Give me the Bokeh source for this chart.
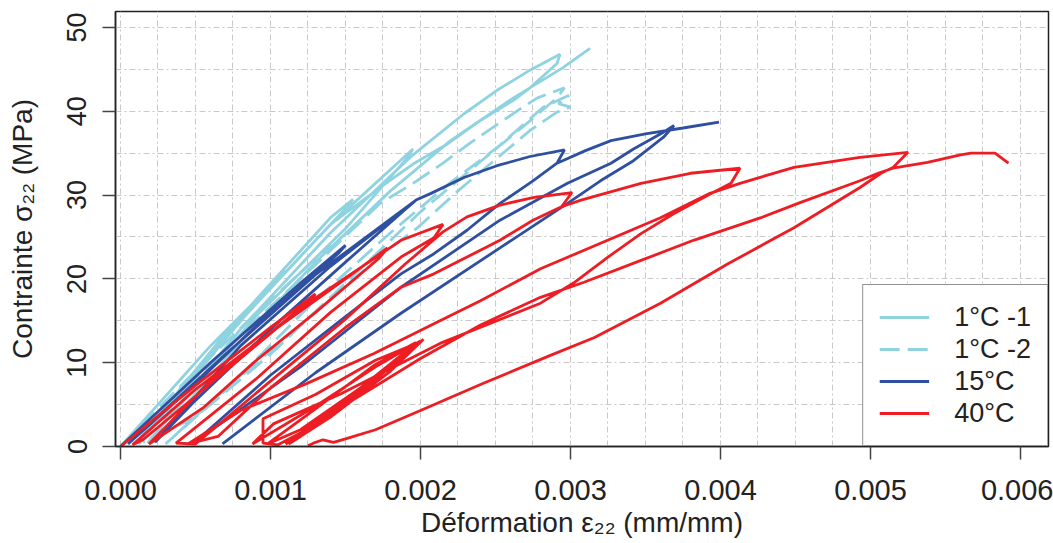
import math
from bokeh.plotting import figure
from bokeh.models import (Range1d, SingleIntervalTicker, PrintfTickFormatter,
                          Legend, LegendItem, Title)
from bokeh.embed import file_html
from bokeh.resources import INLINE

nan = float("nan")

# ---------------- data (strain mm/mm, stress MPa) ----------------
# 1°C -1 (solid light blue)
lb1_eps = [0.0, 0.0006, 0.0011, 0.00105, 0.0006, 0.0001,
           0.0007, 0.0014, 0.00155, 0.00148, 0.0009, 0.0003, 0.00012,
           0.0008, 0.0014, 0.00195, 0.0019, 0.0015, 0.0009, 0.00018,
           0.0008, 0.0014, 0.00195, 0.00229, 0.00251, 0.00273, 0.00293, 0.00291,
           0.00273, 0.00262, 0.0024, 0.00218, 0.00195, 0.00173, 0.0014, 0.0009, 0.0004, 0.00022,
           0.0008, 0.0013, 0.0018, 0.0022, 0.00262, 0.00295, 0.00313]
lb1_sig = [0, 12, 21, 20, 11, 0.3,
           13.5, 27.3, 29.5, 28, 17, 4.5, 0.3,
           15, 26.5, 35.5, 34.2, 26, 15.5, 0.4,
           14, 25.5, 34.8, 39.7, 42.5, 44.9, 46.8, 45.7,
           42.8, 41.3, 38.9, 36.1, 33.7, 30.9, 26.5, 17, 7, 0.5,
           12.5, 22, 30.5, 36.5, 41.6, 45.2, 47.5]

# 1°C -2 (dashed light blue)
lb2_eps = [0.0, 0.0005, 0.001, 0.0014, 0.00138, 0.0009, 0.0004, 0.0001,
           0.0006, 0.0012, 0.00173, 0.00195, 0.00215, 0.00233, 0.00265, 0.00278, 0.00296, 0.00291,
           0.0027, 0.0024, 0.002, 0.0015, 0.001, 0.0005, 0.0003,
           0.0008, 0.0013, 0.0018, 0.0022, 0.0025, 0.00282, 0.00299, 0.00292, 0.003,
           0.00291, 0.00273, 0.00247, 0.00225, 0.00198, 0.00175, 0.0013, 0.0009, 0.0005, 0.00015]
lb2_sig = [0, 9, 17.5, 24, 23, 15, 6.5, 0.3,
           10, 20, 29, 31.4, 33.8, 36.2, 40.1, 41.6, 42.8, 41.6,
           38.4, 34, 28, 19.5, 11, 3.5, 0.3,
           8.5, 17.5, 25.5, 31.5, 35.5, 40.5, 41.9, 40.9, 40.5,
           39.9, 37.7, 33.8, 30.5, 26.1, 23, 16, 9.9, 3.5, 0.5]

# 15°C (dark blue)
db_eps = [0.0, 0.0006, 0.0012, 0.0015, 0.00145, 0.001, 0.0005, 0.00005,
          0.0007, 0.0013, 0.00197, 0.0019, 0.0015, 0.001, 0.0005, 0.00023,
          0.0008, 0.0014, 0.00197, 0.00207, 0.00229, 0.00251, 0.00273, 0.00296, 0.00291,
          0.00275, 0.00253, 0.00231, 0.00209, 0.00187, 0.0015, 0.001, 0.0005,
          0.0012, 0.00187, 0.00253, 0.00298, 0.00327, 0.00342, 0.00362, 0.00369,
          0.00362, 0.00342, 0.0032, 0.00298, 0.00253, 0.00187, 0.0013, 0.00068,
          nan,
          0.00291, 0.0031, 0.00327, 0.0035, 0.00375, 0.00399]
db_sig = [0, 10, 19.5, 24, 23, 16, 7.5, 0.3,
          11, 20.5, 29.4, 28.3, 22, 14, 5.5, 0.5,
          12, 21.5, 29.4, 30.2, 32.1, 33.5, 34.6, 35.4, 33.8,
          31.7, 29, 25.8, 23, 20.6, 15.5, 8.5, 0.6,
          9.5, 19, 27, 31.4, 33.8, 35.5, 37.5, 38.3,
          36.9, 34.1, 31.7, 29, 23.7, 15.9, 8.8, 0.3,
          nan,
          33.8, 35.3, 36.5, 37.3, 38.0, 38.7]

# 40°C (red)
rd_eps = [0.0, 0.0005, 0.001, 0.0013, 0.00125, 0.0009, 0.0005, 0.00015, 0.00008,
          0.0005, 0.001, 0.0015, 0.00178, 0.00172, 0.0013, 0.0009, 0.00055, 0.00019,
          0.0006, 0.0012, 0.00187, 0.00215, 0.00209, 0.00187, 0.0014, 0.0009, 0.00037, 0.0005,
          0.001, 0.0015, 0.0019, 0.00215, 0.00231, 0.00253, 0.00275, 0.00301, 0.00294,
          0.00307, 0.00347, 0.0038, 0.00413, 0.00407, 0.00395, 0.00369, 0.00347, 0.00325,
          0.00302, 0.0028, 0.00213, 0.00147, 0.00102, 0.00088,
          0.0013, 0.0017, 0.002, 0.00192, 0.0016, 0.0012, 0.00098,
          0.0013, 0.0017, 0.00197, 0.0019, 0.00155, 0.0012, 0.00105, 0.00095, 0.00095,
          0.0013, 0.0017, 0.002, 0.0016, 0.0012, 0.00112,
          0.0014, 0.0018, 0.00202, 0.0017, 0.0013, 0.0011,
          0.0015, 0.002, 0.0024, 0.0028, 0.00309, 0.00347, 0.00382, 0.00427, 0.00453,
          0.00493, 0.00505, 0.00515, 0.00538, 0.0056, 0.00567, 0.00583, 0.00592,
          nan,
          0.00294, 0.00275, 0.00253, 0.00231, 0.00209, 0.00187, 0.0015, 0.001, 0.00065, 0.00045,
          0.0008, 0.00124, 0.00169, 0.00213, 0.0024, 0.0028, 0.0036, 0.00393, 0.00413,
          0.00449, 0.00493, 0.00525, 0.00515, 0.00507, 0.00493, 0.00449, 0.00405, 0.0036,
          0.00316, 0.00287, 0.0024, 0.002, 0.0017, 0.0015, 0.00142, 0.00135, 0.0013, 0.00125]
rd_sig = [0, 7.3, 14.2, 18.2, 17.2, 12.0, 6.0, 0.8, 0.2,
          6.8, 13.6, 20.0, 23.7, 22.4, 16.0, 10.2, 4.6, 0.3,
          7.8, 16.5, 24.6, 26.5, 24.9, 22.6, 16.0, 8.0, 0.4, 0.3,
          7.8, 15.2, 21.8, 25.6, 27.4, 28.8, 29.7, 30.3, 28.6,
          29.4, 31.4, 32.6, 33.2, 31.4, 30.3, 27.8, 25.4, 22.6,
          19.5, 17.1, 12.3, 6.3, 2.7, 0.3,
          4.8, 9.5, 12.6, 11.6, 7.0, 2.0, 0.3,
          4.5, 9.8, 12.4, 11.2, 6.0, 1.6, 0.2, 0.4, 3.3,
          6.2, 10.3, 12.5, 6.5, 1.2, 0.3,
          3.5, 9.0, 12.8, 8.0, 2.5, 0.3,
          5.0, 10.5, 14.5, 17.8, 19.6, 22.2, 24.6, 27.3, 29.1,
          31.7, 32.6, 33.2, 33.9, 34.8, 35.0, 35.0, 33.8,
          nan,
          28.6, 27.0, 24.6, 22.6, 20.6, 19.0, 14.2, 7.0, 1.2, 0.3,
          4.3, 7.5, 11.1, 15.0, 17.4, 21.2, 27.3, 30.2, 31.4,
          33.3, 34.5, 35.1, 33.3, 32.6, 30.9, 26.1, 21.8, 17.1,
          13.0, 10.9, 7.4, 4.3, 2.0, 0.9, 0.5, 0.8, 0.5, 0.1]

series_labels = ["1°C -1", "1°C -2", "15°C", "40°C"]
series_colors = ["#8fd3e0", "#8fd3e0", "#2f4fa0", "#ee1d24"]

x_ticks_interval = 0.001
y_ticks_interval = 10

# ---------------- figure ----------------
FONT = "Liberation Sans"
TXT = "#222222"

p = figure(frame_width=933, frame_height=435,
           x_range=Range1d(-0.0000333, 0.0061867), y_range=Range1d(0, 51.9),
           output_backend="svg", toolbar_location=None,
           min_border_left=115, min_border_top=11, min_border_right=5,
           min_border_bottom=97)

p.outline_line_color = "#222222"
p.outline_line_width = 1.5
p.background_fill_color = "white"
p.border_fill_color = "white"

# grids
p.xgrid.ticker = SingleIntervalTicker(interval=0.00025)
p.ygrid.ticker = SingleIntervalTicker(interval=5)
for g in (p.xgrid, p.ygrid):
    g.grid_line_color = "#c8c8c8"
    g.grid_line_dash = "6 3 2 3"
    g.grid_line_width = 1

# axes
p.xaxis.ticker = SingleIntervalTicker(interval=x_ticks_interval, num_minor_ticks=0)
p.xaxis.formatter = PrintfTickFormatter(format="%.3f")
p.yaxis.ticker = SingleIntervalTicker(interval=y_ticks_interval, num_minor_ticks=0)
p.yaxis.major_label_orientation = "vertical"

for ax in (p.xaxis, p.yaxis):
    ax.axis_line_color = "#222222"
    ax.axis_line_width = 1.5
    ax.major_tick_line_color = "#444444"
    ax.major_tick_line_width = 1.5
    ax.major_tick_in = 0
    ax.major_tick_out = 13
    ax.minor_tick_line_color = None
    ax.major_label_text_font = FONT
    ax.major_label_text_color = TXT
    ax.axis_label_text_font = FONT
    ax.axis_label_text_font_size = "28px"
    ax.axis_label_text_font_style = "normal"
    ax.axis_label_text_color = TXT

p.xaxis.major_label_text_font_size = "29px"
p.yaxis.major_label_text_font_size = "27px"
p.xaxis.major_label_standoff = 20
p.yaxis.major_label_standoff = 16
p.yaxis.axis_label_standoff = 27

p.yaxis.axis_label = "Contrainte σ₂₂ (MPa)"

# x-axis title as a title panel under the axis
xt = Title(text="Déformation ε₂₂ (mm/mm)", align="center",
           text_font=FONT, text_font_size="28px", text_font_style="normal",
           text_color=TXT, standoff=5, offset=0)
p.add_layout(xt, "below")

# lines
r1 = p.line(lb1_eps, lb1_sig, line_color=series_colors[0], line_width=2.8)
r2 = p.line(lb2_eps, lb2_sig, line_color=series_colors[1], line_width=2.8,
            line_dash="20 8")
r3 = p.line(db_eps, db_sig, line_color=series_colors[2], line_width=2.8)
r4 = p.line(rd_eps, rd_sig, line_color=series_colors[3], line_width=2.8)

legend = Legend(items=[LegendItem(label=series_labels[i], renderers=[r])
                       for i, r in enumerate([r1, r2, r3, r4])],
                location="bottom_right")
legend.label_text_font = FONT
legend.label_text_font_size = "27px"
legend.label_text_color = TXT
legend.glyph_width = 50
legend.glyph_height = 32
legend.label_height = 32
legend.label_standoff = 25
legend.padding = 16
legend.spacing = 0
legend.margin = 0
legend.border_line_color = "#222222"
legend.border_line_width = 1.5
legend.background_fill_alpha = 1.0
p.add_layout(legend)

open("out.html", "w").write(file_html(p, INLINE))
